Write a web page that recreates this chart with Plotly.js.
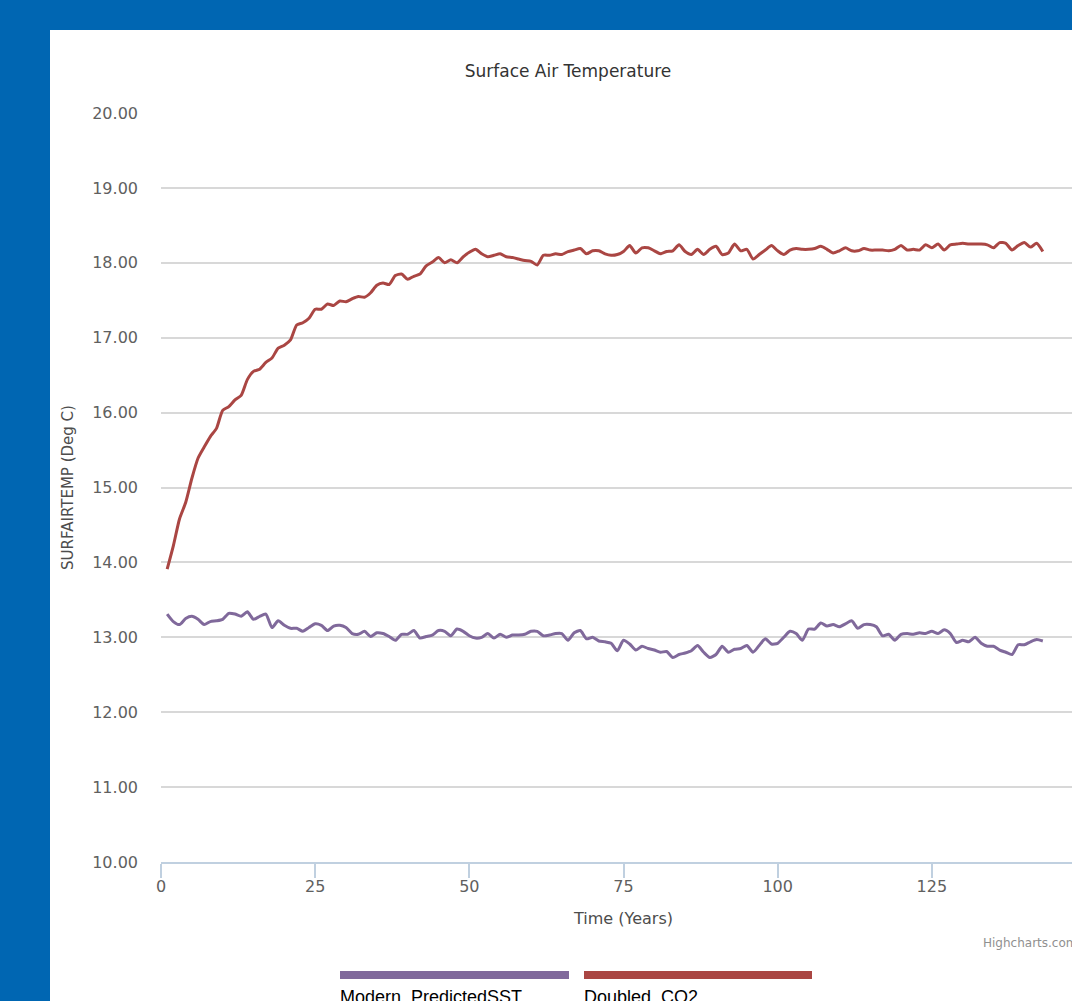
<!DOCTYPE html>
<html>
<head>
<meta charset="utf-8">
<script src="https://cdn.plot.ly/plotly-3.0.1.min.js"></script>
<style>
  html, body { margin:0; padding:0; width:1072px; height:1001px; overflow:hidden; background:#0066b2; }
  #panel { position:absolute; left:50px; top:30px; width:1060px; height:971px; background:#ffffff; }
  #chart { position:absolute; left:0; top:0; width:1060px; height:971px; }
</style>
</head>
<body>
<div id="panel"><div id="chart"></div></div>
<script>
const years = [];
for (let i = 1; i <= 143; i++) years.push(i);

const seriesNames = ["Modern_PredictedSST", "Doubled_CO2"];

const modernPredictedSST = [
  13.31,13.21,13.17,13.25,13.28,13.24,13.17,13.21,13.22,13.24,
  13.32,13.31,13.28,13.34,13.24,13.28,13.31,13.13,13.22,13.16,
  13.12,13.12,13.08,13.13,13.18,13.16,13.09,13.15,13.16,13.13,
  13.05,13.04,13.08,13.01,13.06,13.05,13.01,12.96,13.04,13.04,
  13.09,12.99,13.01,13.03,13.09,13.08,13.02,13.11,13.08,13.02,
  12.99,13.00,13.05,12.99,13.04,13.00,13.03,13.03,13.04,13.08,
  13.08,13.02,13.03,13.05,13.05,12.96,13.06,13.09,12.98,13.00,
  12.95,12.94,12.92,12.82,12.96,12.91,12.83,12.88,12.85,12.83,
  12.80,12.81,12.73,12.77,12.79,12.82,12.89,12.80,12.73,12.77,
  12.88,12.80,12.84,12.85,12.89,12.80,12.89,12.98,12.91,12.92,
  13.00,13.08,13.05,12.96,13.11,13.11,13.19,13.15,13.17,13.14,
  13.18,13.22,13.12,13.17,13.17,13.14,13.02,13.04,12.96,13.04,
  13.05,13.04,13.06,13.05,13.08,13.05,13.10,13.05,12.93,12.96,
  12.94,13.00,12.92,12.88,12.88,12.83,12.80,12.77,12.90,12.90,
  12.94,12.97,12.95
];

const doubledCO2 = [
  13.91,14.22,14.58,14.80,15.12,15.39,15.54,15.68,15.79,16.03,
  16.08,16.17,16.23,16.44,16.55,16.58,16.67,16.73,16.86,16.90,
  16.97,17.17,17.20,17.26,17.38,17.38,17.45,17.43,17.49,17.48,
  17.52,17.55,17.54,17.60,17.70,17.73,17.71,17.83,17.85,17.78,
  17.82,17.85,17.96,18.01,18.07,18.00,18.04,18.00,18.08,18.14,
  18.18,18.12,18.08,18.10,18.12,18.08,18.07,18.05,18.03,18.02,
  17.97,18.10,18.10,18.12,18.11,18.15,18.17,18.19,18.12,18.16,
  18.16,18.12,18.10,18.11,18.15,18.23,18.13,18.20,18.20,18.16,
  18.12,18.15,18.16,18.24,18.15,18.11,18.18,18.11,18.18,18.22,
  18.11,18.13,18.25,18.16,18.18,18.05,18.11,18.17,18.23,18.16,
  18.11,18.17,18.19,18.18,18.18,18.19,18.22,18.18,18.13,18.16,
  18.20,18.16,18.16,18.19,18.17,18.17,18.17,18.16,18.18,18.23,
  18.17,18.18,18.17,18.24,18.20,18.25,18.17,18.24,18.25,18.26,
  18.25,18.25,18.25,18.24,18.20,18.27,18.26,18.17,18.23,18.27,
  18.21,18.26,18.15
];

const xTickVals = [0, 25, 50, 75, 100, 125, 150];
const yTickVals = [10, 11, 12, 13, 14, 15, 16, 17, 18, 19, 20];
const colors = ["#80699B", "#AA4643"];

const font = "'DejaVu Sans', 'Open Sans', sans-serif";
const legendFont = "'Liberation Sans', Arial, sans-serif";

// plot area in page pixels: left 161, width 925, top 113, height 749
const px = p => (p - 161) / 925;
const py = p => (862 - p) / 749;

const traces = [
  { x: years, y: modernPredictedSST, name: seriesNames[0], type: "scatter", mode: "lines",
    line: { color: colors[0], width: 3, shape: "spline", smoothing: 0.6 }, hoverinfo: "x+y" },
  { x: years, y: doubledCO2, name: seriesNames[1], type: "scatter", mode: "lines",
    line: { color: colors[1], width: 3, shape: "spline", smoothing: 0.6 }, hoverinfo: "x+y" }
];

const layout = {
  width: 1060, height: 971,
  margin: { l: 111, r: 24, t: 83, b: 139 },
  paper_bgcolor: "#ffffff", plot_bgcolor: "#ffffff",
  showlegend: false,
  font: { family: font, color: "#606060", size: 16 },
  title: { text: "Surface Air Temperature", x: 518 / 1060, xref: "container", y: 1 - 41 / 971, yref: "container",
           xanchor: "center", yanchor: "middle",
           font: { family: font, size: 17, color: "#333333" } },
  xaxis: {
    range: [0, 150], tickvals: xTickVals, ticktext: xTickVals.map(String),
    showgrid: false, zeroline: false,
    showline: true, linecolor: "#C0D0E0", linewidth: 2,
    ticks: "outside", ticklen: 14, tickwidth: 2, tickcolor: "#C0D0E0",
    tickfont: { family: font, size: 16, color: "#606060" },
    ticklabelstandoff: -5,
    title: { text: "Time (Years)", standoff: 18, font: { family: font, size: 16, color: "#4d4d4d" } }
  },
  yaxis: {
    range: [10, 20], tickvals: yTickVals, ticktext: yTickVals.map(v => v.toFixed(2)),
    showgrid: true, gridcolor: "#D8D8D8", gridwidth: 2,
    zeroline: false, showline: false, ticks: "",
    tickfont: { family: font, size: 16, color: "#606060" },
    ticklabelstandoff: 22,
    title: { text: "SURFAIRTEMP (Deg C)", standoff: 14, font: { family: font, size: 15, color: "#4d4d4d" } }
  },
  shapes: [
    { type: "line", xref: "paper", yref: "paper", x0: px(340), x1: px(569),
      y0: py(975), y1: py(975), line: { color: colors[0], width: 8 } },
    { type: "line", xref: "paper", yref: "paper", x0: px(584), x1: px(812),
      y0: py(975), y1: py(975), line: { color: colors[1], width: 8 } }
  ],
  annotations: [
    { text: seriesNames[0], xref: "paper", yref: "paper", x: px(338), y: py(985),
      xanchor: "left", yanchor: "top", showarrow: false,
      font: { family: legendFont, size: 18, color: "#000000" } },
    { text: seriesNames[1], xref: "paper", yref: "paper", x: px(582), y: py(985),
      xanchor: "left", yanchor: "top", showarrow: false,
      font: { family: legendFont, size: 18, color: "#000000" } },
    { text: "Highcharts.com", xref: "paper", yref: "paper", x: px(981), y: py(943),
      xanchor: "left", yanchor: "middle", showarrow: false,
      font: { family: font, size: 12, color: "#909090" } }
  ]
};

Plotly.newPlot("chart", traces, layout, { displayModeBar: false, staticPlot: true });
</script>
</body>
</html>
